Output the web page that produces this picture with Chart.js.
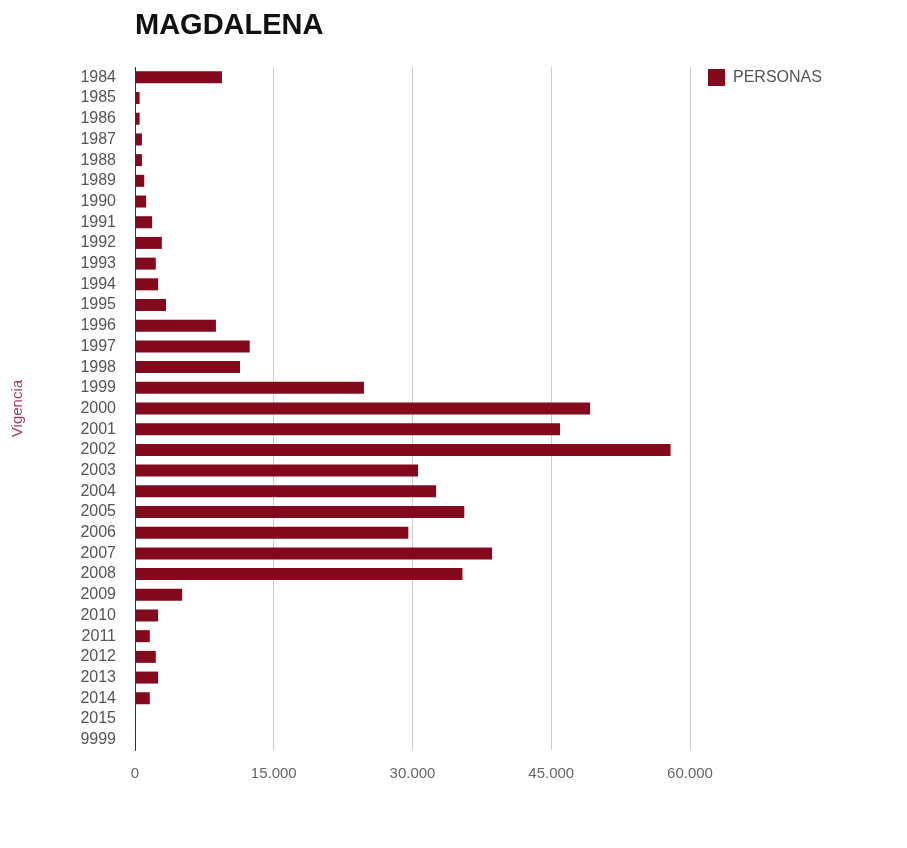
<!DOCTYPE html>
<html>
<head>
<meta charset="utf-8">
<title>MAGDALENA</title>
<script src="https://cdn.jsdelivr.net/npm/chart.js@4"></script>
<style>
  body { margin: 0; background: #fff; }
  #wrap { position: relative; width: 907px; height: 848px; }
</style>
</head>
<body>
<div id="wrap"><canvas id="graficoVigencia"></canvas></div>
<script>
// datos
const tituloGrafico = 'MAGDALENA';
const nombreSerie = 'PERSONAS';
const tituloEje = 'Vigencia';
const vigencias = ['1984', '1985', '1986', '1987', '1988', '1989', '1990', '1991', '1992', '1993',
    '1994', '1995', '1996', '1997', '1998', '1999', '2000', '2001', '2002', '2003', '2004',
    '2005', '2006', '2007', '2008', '2009', '2010', '2011', '2012', '2013', '2014', '2015', '9999'];
const personas = [9400, 500, 500, 750, 750, 1000, 1200, 1850, 2900, 2250, 2500, 3350, 8750,
    12400, 11350, 24750, 49200, 45950, 57900, 30600, 32550, 35600, 29550, 38600, 35400,
    5100, 2500, 1600, 2250, 2500, 1600, 20, 5];
const ticksX = [0, 15000, 30000, 45000, 60000];

const fuente = '"Liberation Sans", Arial, sans-serif';
const colorBarra = '#820a1c';

function formatoMiles(v) {
    return String(v).replace(/\B(?=(\d{3})+(?!\d))/g, '.');
}

// titulo y leyenda dibujados junto al area del grafico
const extras = {
    id: 'extras',
    afterDraw(chart) {
        const ctx = chart.ctx;
        const area = chart.chartArea;
        ctx.save();
        ctx.fillStyle = '#111';
        ctx.font = 'bold 29px ' + fuente;
        ctx.textBaseline = 'middle';
        ctx.textAlign = 'left';
        ctx.fillText(tituloGrafico, area.left, 26);

        const lx = area.right + 18;
        const ly = area.top + 2;
        ctx.fillStyle = colorBarra;
        ctx.fillRect(lx, ly, 17, 17);
        ctx.fillStyle = '#555';
        ctx.font = '16px ' + fuente;
        ctx.fillText(chart.data.datasets[0].label, lx + 25, ly + 9);
        ctx.restore();
    }
};

const ctx = document.getElementById('graficoVigencia').getContext('2d');

new Chart(ctx, {
    type: 'bar',
    data: {
        labels: vigencias,
        datasets: [{
            label: nombreSerie,
            data: personas,
            backgroundColor: colorBarra,
            barPercentage: 0.58,
            categoryPercentage: 1
        }]
    },
    options: {
        indexAxis: 'y',
        responsive: true,
        maintainAspectRatio: false,
        animation: false,
        layout: { padding: { top: 67, right: 217, left: 0, bottom: 0 } },
        plugins: {
            legend: { display: false },
            title: { display: false },
            tooltip: { enabled: false }
        },
        scales: {
            x: {
                min: 0,
                max: 60000,
                afterFit(scale) { scale.height = 98; },
                afterBuildTicks(scale) { scale.ticks = ticksX.map(v => ({ value: v })); },
                grid: { color: '#cccccc', drawTicks: false },
                border: { display: false },
                ticks: {
                    padding: 15,
                    color: '#666',
                    font: { family: fuente, size: 15 },
                    callback: v => formatoMiles(v)
                }
            },
            y: {
                afterFit(scale) { scale.width = 135; },
                grid: { display: false, drawTicks: false },
                border: { display: true, color: '#333', width: 1 },
                ticks: {
                    padding: 19,
                    color: '#555',
                    autoSkip: false,
                    font: { family: fuente, size: 16 }
                },
                title: {
                    display: true,
                    text: tituloEje,
                    color: '#a04060',
                    font: { family: fuente, size: 15 },
                    padding: { top: 9, bottom: 0 }
                }
            }
        }
    },
    plugins: [extras]
});
</script>
</body>
</html>
